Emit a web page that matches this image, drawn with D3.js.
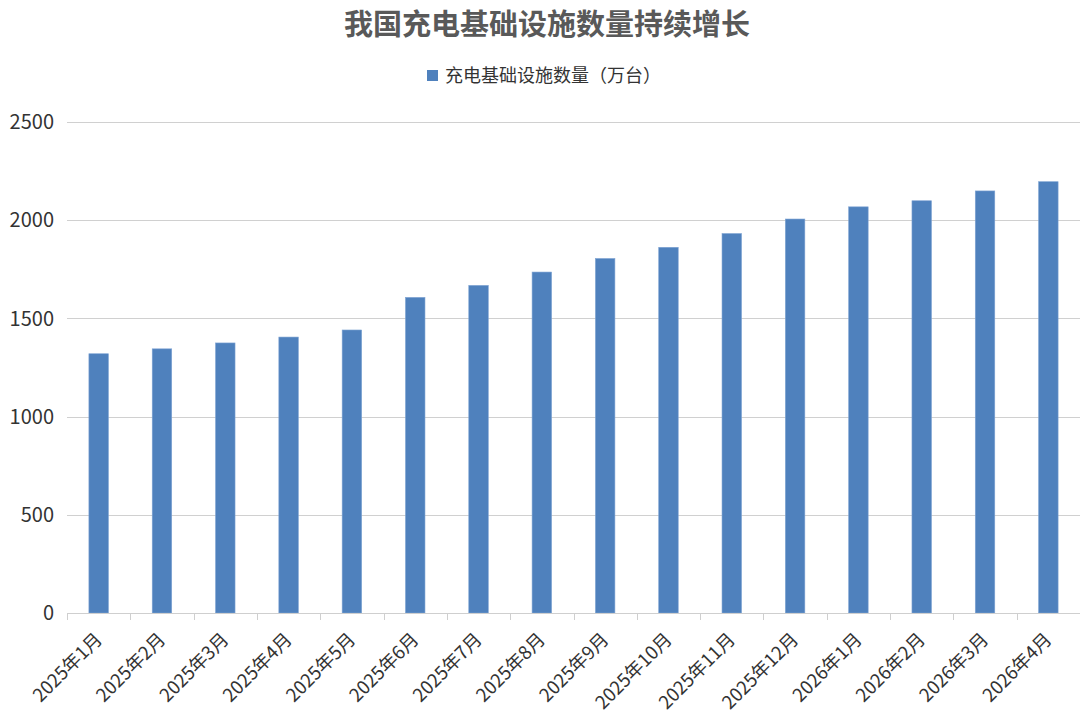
<!DOCTYPE html>
<html><head><meta charset="utf-8">
<script src="https://cdn.jsdelivr.net/npm/d3@7"></script>
<style>
html,body{margin:0;padding:0;background:#fff;}
text{font-family:"Noto Sans CJK SC","Noto Sans",sans-serif;}
</style></head>
<body><svg id="c" width="1080" height="720"></svg>
<script>
const categories = ["2025年1月","2025年2月","2025年3月","2025年4月","2025年5月","2025年6月","2025年7月","2025年8月","2025年9月","2025年10月","2025年11月","2025年12月","2026年1月","2026年2月","2026年3月","2026年4月"];
const values = [1320,1345,1375,1405,1441,1607,1668,1736,1805,1862,1932,2006,2068,2099,2149,2196];
const yTicks = [0,500,1000,1500,2000,2500];
const title = "我国充电基础设施数量持续增长";
const seriesName = "充电基础设施数量（万台）";

(function(){
const svg = d3.select("#c");
const pLeft = 67, pRight = 1080, pTop = 122, pBottom = 613;
const x = d3.scaleBand().domain(categories).range([pLeft, pRight]).paddingInner(0.692).paddingOuter(0.346);
const y = d3.scaleLinear().domain([0,2500]).range([pBottom, pTop]);

// gridlines
svg.append("g").selectAll("line").data(yTicks.filter(d=>d>0)).join("line")
  .attr("x1", 67).attr("x2", 1080)
  .attr("y1", d=>Math.round(y(d))+0.5).attr("y2", d=>Math.round(y(d))+0.5)
  .attr("stroke", "#d0d0d0").attr("stroke-width", 1);

// y labels
svg.append("g").selectAll("text").data(yTicks).join("text")
  .attr("x", 54).attr("y", d=>y(d)).attr("dy", "0.36em")
  .attr("text-anchor", "end").attr("font-size", 20)
  .attr("font-family", "'Liberation Sans', Arial, sans-serif").attr("fill", "#333")
  .text(d=>d);

// bars
svg.append("g").selectAll("rect").data(values).join("rect")
  .attr("x", (d,i)=>x(categories[i])).attr("width", x.bandwidth())
  .attr("y", d=>y(d)).attr("height", d=>pBottom - y(d))
  .attr("fill", "#4f81bd").attr("stroke", "#7ea3d3").attr("stroke-width", 0.6);

// x axis
svg.append("line").attr("x1", pLeft).attr("x2", 1080).attr("y1", pBottom+0.5).attr("y2", pBottom+0.5)
  .attr("stroke", "#cfcfcf").attr("stroke-width", 1.2);
const step = x.step();
const tickXs = d3.range(categories.length+1).map(i => Math.round(pLeft + i*step)+0.5);
svg.append("g").selectAll("line").data(tickXs).join("line")
  .attr("x1", d=>d).attr("x2", d=>d).attr("y1", pBottom).attr("y2", pBottom+7)
  .attr("stroke", "#cfcfcf").attr("stroke-width", 1);

svg.append("g").selectAll("text").data(categories).join("text")
  .attr("transform", d=>`translate(${x(d)+x.bandwidth()/2},${pBottom+23}) rotate(-45)`)
  .attr("text-anchor", "end").attr("dy", "0.35em")
  .attr("font-size", 18.5).attr("fill", "#333")
  .text(d=>d);

// title
svg.append("text").attr("x", 547).attr("y", 25).attr("dy", "0.35em")
  .attr("text-anchor", "middle").attr("font-size", 29).attr("font-weight", "bold")
  .attr("fill", "#595959").text(title);

// legend
svg.append("rect").attr("x", 427).attr("y", 70).attr("width", 11).attr("height", 11).attr("fill", "#4f81bd");
svg.append("text").attr("x", 445).attr("y", 76).attr("dy", "0.35em")
  .attr("font-size", 18).attr("fill", "#333").text(seriesName);
})();
</script></body></html>
